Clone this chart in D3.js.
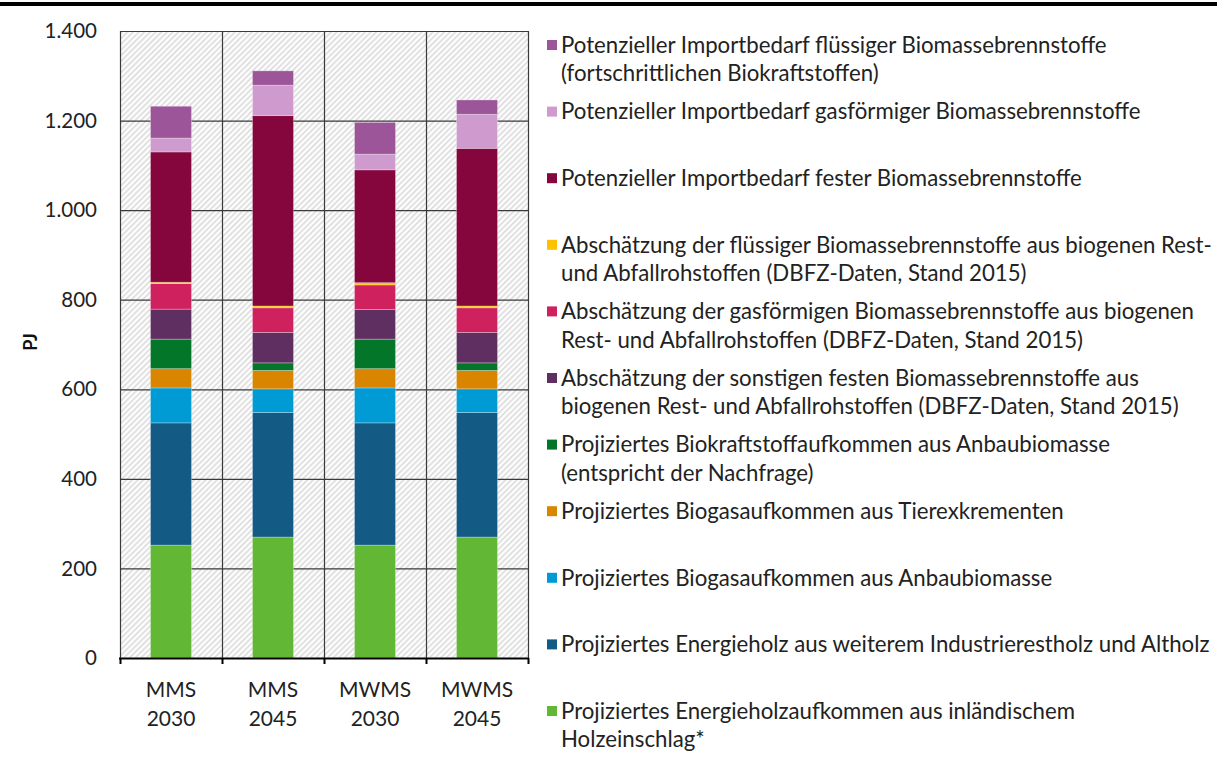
<!DOCTYPE html>
<html><head><meta charset="utf-8">
<script src="https://cdn.jsdelivr.net/npm/d3@7"></script>
<style>html,body{margin:0;padding:0;background:#fff;} svg{display:block;font-family:Lato,"Open Sans",sans-serif;}</style>
</head><body>
<svg id="chart" width="1217" height="763"></svg>
<script>
// ---- data ----
const categories = ["MMS 2030", "MMS 2045", "MWMS 2030", "MWMS 2045"];
const holzeinschlag      = [252, 270, 252, 270];
const industrierestholz  = [273, 278, 273, 278];
const biogasAnbau        = [78, 53, 78, 53];
const biogasTier         = [43, 41, 43, 41];
const biokraftstoff      = [66, 17, 66, 17];
const sonstigeFeste      = [67, 68, 66, 68];
const gasfoermigRest     = [57, 55, 55, 55];
const fluessigRest       = [3, 4, 5, 4];
const importFest         = [291, 425, 252, 352];
const importGas          = [31, 68, 35, 76];
const importFluessig     = [71, 32, 71, 32];
const yTicks = [0, 200, 400, 600, 800, 1000, 1200, 1400];

const seriesNames = [
  "Projiziertes Energieholzaufkommen aus inländischem|Holzeinschlag*",
  "Projiziertes Energieholz aus weiterem Industrierestholz und Altholz",
  "Projiziertes Biogasaufkommen aus Anbaubiomasse",
  "Projiziertes Biogasaufkommen aus Tierexkrementen",
  "Projiziertes Biokraftstoffaufkommen aus Anbaubiomasse|(entspricht der Nachfrage)",
  "Abschätzung der sonstigen festen Biomassebrennstoffe aus|biogenen Rest- und Abfallrohstoffen (DBFZ-Daten, Stand 2015)",
  "Abschätzung der gasförmigen Biomassebrennstoffe aus biogenen|Rest- und Abfallrohstoffen (DBFZ-Daten, Stand 2015)",
  "Abschätzung der flüssiger Biomassebrennstoffe aus biogenen Rest-|und Abfallrohstoffen (DBFZ-Daten, Stand 2015)",
  "Potenzieller Importbedarf fester Biomassebrennstoffe",
  "Potenzieller Importbedarf gasförmiger Biomassebrennstoffe",
  "Potenzieller Importbedarf flüssiger Biomassebrennstoffe|(fortschrittlichen Biokraftstoffen)"
];
const seriesValues = [holzeinschlag, industrierestholz, biogasAnbau, biogasTier, biokraftstoff,
  sonstigeFeste, gasfoermigRest, fluessigRest, importFest, importGas, importFluessig];
const colors = ["#62b834", "#135b84", "#009bd5", "#d98500", "#037629", "#602f62",
  "#cf215e", "#ffc000", "#84063c", "#cf9bce", "#9c5599"];

(function () {
// ---- build table ----
const keys = seriesNames.map((d, i) => "s" + i);
const table = categories.map((c, ci) => {
  const row = {cat: c};
  keys.forEach((k, i) => row[k] = seriesValues[i][ci]);
  return row;
});
const stacked = d3.stack().keys(keys)(table);

const svg = d3.select("#chart");
const de = d3.formatLocale({decimal: ",", thousands: ".", grouping: [3], currency: ["", " €"]});
const fmt = de.format(",d");

// top rule
svg.append("rect").attr("x", 0).attr("y", 2).attr("width", 1217).attr("height", 4).attr("fill", "#000");

const pL = 120, pR = 528, pT = 31, pB = 658;
const x = d3.scaleBand().domain(categories).range([pL, pR]).paddingInner(0).paddingOuter(0);
const y = d3.scaleLinear().domain([0, 1400]).range([pB, pT]);
const barW = 41;

// hatch pattern
const defs = svg.append("defs");
const pat = defs.append("pattern").attr("id", "hatch").attr("patternUnits", "userSpaceOnUse")
  .attr("width", 4).attr("height", 4).attr("patternTransform", "rotate(45)");
pat.append("rect").attr("width", 4).attr("height", 4).attr("fill", "#fdfdfd");
pat.append("rect").attr("x", 0).attr("width", 1.5).attr("height", 4).attr("fill", "#d9d9d9");

svg.append("rect").attr("x", pL).attr("y", pT).attr("width", pR - pL).attr("height", pB - pT)
  .attr("fill", "url(#hatch)");

// grid
const g = svg.append("g");
g.selectAll("line.h").data(yTicks.filter(d => d > 0)).join("line")
  .attr("x1", pL).attr("x2", pR).attr("y1", d => y(d) + 0.5).attr("y2", d => y(d) + 0.5)
  .attr("stroke", "#3a3a3a").attr("stroke-width", 1.2);
const bounds = categories.map(c => x(c)).concat([pR]);
g.selectAll("line.v").data(bounds).join("line")
  .attr("x1", d => d + 0.5).attr("x2", d => d + 0.5).attr("y1", pT).attr("y2", pB)
  .attr("stroke", "#3a3a3a").attr("stroke-width", 1.2);

// bars
svg.append("g").selectAll("g").data(stacked).join("g")
  .attr("fill", (d, i) => colors[i])
  .selectAll("rect").data(d => d).join("rect")
  .attr("x", d => x(d.data.cat) + x.bandwidth() / 2 - barW / 2)
  .attr("width", barW)
  .attr("y", d => y(d[1]))
  .attr("height", d => Math.max(0, y(d[0]) - y(d[1])))
  .attr("stroke", "#ffffff").attr("stroke-opacity", 0.35).attr("stroke-width", 0.8);

// x axis
const xAxis = svg.append("g");
xAxis.append("line").attr("x1", pL - 1).attr("x2", pR + 1).attr("y1", pB + 0.5).attr("y2", pB + 0.5)
  .attr("stroke", "#000").attr("stroke-width", 2);
xAxis.selectAll("line.t").data(bounds).join("line")
  .attr("x1", d => d + 0.5).attr("x2", d => d + 0.5).attr("y1", pB).attr("y2", pB + 6)
  .attr("stroke", "#000").attr("stroke-width", 2);
categories.forEach(c => {
  const parts = c.split(" ");
  const t = svg.append("text").attr("text-anchor", "middle").attr("font-size", 21).attr("fill", "#222");
  t.append("tspan").attr("x", x(c) + x.bandwidth() / 2).attr("y", 697).text(parts[0]);
  t.append("tspan").attr("x", x(c) + x.bandwidth() / 2).attr("y", 726).text(parts[1]);
});

// y tick labels
svg.append("g").selectAll("text").data(yTicks).join("text")
  .attr("x", 97).attr("y", d => y(d)).attr("dy", "0.35em").attr("text-anchor", "end")
  .attr("font-size", 20.5).attr("fill", "#222").text(d => fmt(d));

// y title
svg.append("text").attr("transform", "translate(31,342) rotate(-90)").attr("text-anchor", "middle")
  .attr("dy", "0.35em").attr("font-size", 18).attr("font-weight", "bold").attr("fill", "#111").text("PJ");

// legend
const legendOrder = d3.range(seriesNames.length).reverse();
const lg = svg.append("g");
const y0 = 45, step = 66.6, lineH = 28.5;
const fs = 18;
legendOrder.forEach((si, idx) => {
  const cy = y0 + idx * step;
  lg.append("rect").attr("x", 547).attr("y", cy - 5).attr("width", 10).attr("height", 10).attr("fill", colors[si]);
  seriesNames[si].split("|").forEach((line, li) => {
    lg.append("text").attr("class", "lt").attr("x", 561).attr("y", cy + li * lineH).attr("dy", "0.35em")
      .attr("font-size", fs).attr("fill", "#222").text(line);
  });
});
// fit font size to the reference width of the longest line
const ref = lg.selectAll("text.lt").filter(function () { return this.textContent.startsWith("Projiziertes Energieholz aus weiterem"); });
const w = ref.node().getComputedTextLength();
const nfs = fs * 649 / w;
lg.selectAll("text.lt").attr("font-size", nfs);
})();
</script>
</body></html>
